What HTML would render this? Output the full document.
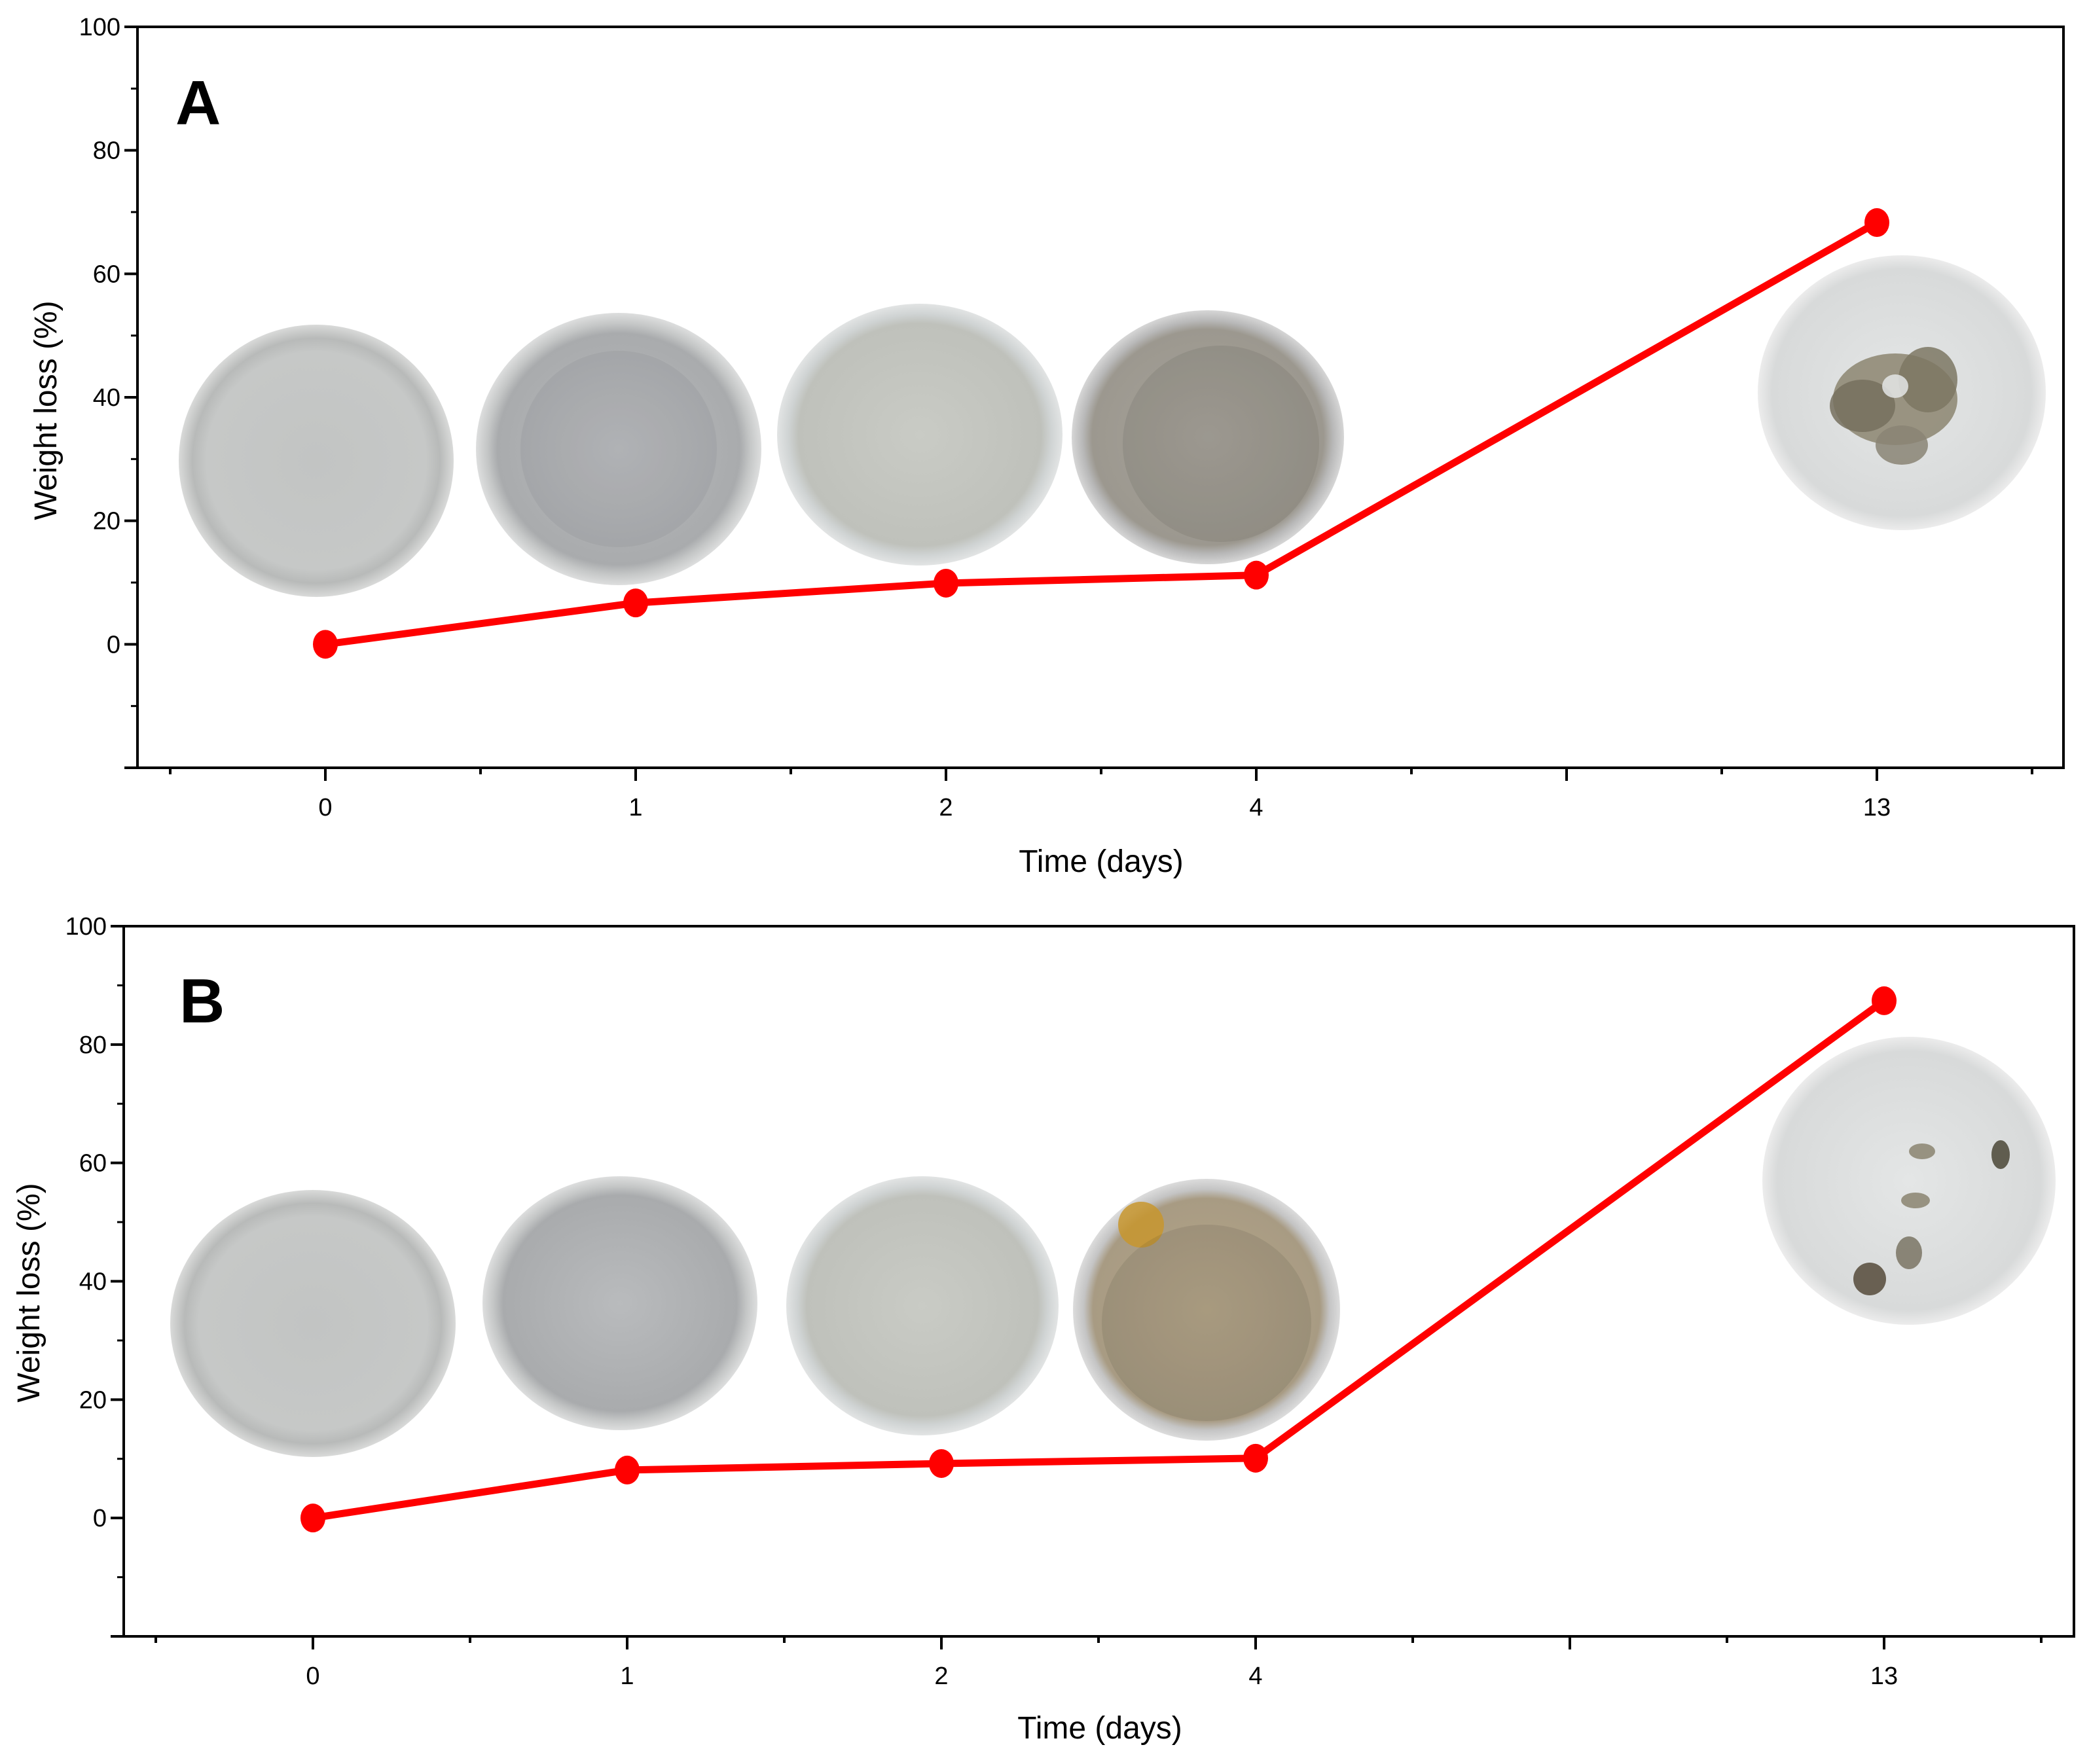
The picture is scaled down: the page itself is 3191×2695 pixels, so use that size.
<!DOCTYPE html>
<html><head><meta charset="utf-8"><style>
html,body{margin:0;padding:0;background:#fff;}
svg{display:block;}
text{font-family:"Liberation Sans",sans-serif;fill:#000;}
</style></head><body>
<svg id="fig" width="3191" height="2695" viewBox="0 0 3191 2695" xmlns="http://www.w3.org/2000/svg">
<defs>
<radialGradient id="g0" cx="50%" cy="50%" r="50%"><stop offset="0" stop-color="#c2c4c3"/><stop offset="0.8" stop-color="#c6c8c7"/><stop offset="0.9" stop-color="#b8bab9"/><stop offset="1" stop-color="#d9dad9"/></radialGradient>
<radialGradient id="g1" cx="50%" cy="50%" r="50%"><stop offset="0" stop-color="#b9bbbd"/><stop offset="0.85" stop-color="#a9abad"/><stop offset="0.92" stop-color="#c4c6c6"/><stop offset="1" stop-color="#dddede"/></radialGradient>
<radialGradient id="g2" cx="50%" cy="50%" r="50%"><stop offset="0" stop-color="#c9cbc5"/><stop offset="0.85" stop-color="#bfc1bb"/><stop offset="0.92" stop-color="#cfd3d3"/><stop offset="1" stop-color="#e2e4e4"/></radialGradient>
<radialGradient id="g3" cx="50%" cy="50%" r="50%"><stop offset="0" stop-color="#a8a49c"/><stop offset="0.85" stop-color="#9c988f"/><stop offset="0.92" stop-color="#b8b8b8"/><stop offset="1" stop-color="#d6d6d6"/></radialGradient>
<radialGradient id="g3b" cx="50%" cy="50%" r="50%"><stop offset="0" stop-color="#b7a78a"/><stop offset="0.85" stop-color="#a89b83"/><stop offset="0.92" stop-color="#c4c4c4"/><stop offset="1" stop-color="#dcdcdc"/></radialGradient>
<radialGradient id="g5" cx="50%" cy="50%" r="50%"><stop offset="0" stop-color="#e4e6e6"/><stop offset="0.9" stop-color="#d8dada"/><stop offset="1" stop-color="#ececec"/></radialGradient>
</defs>
<g id="panelA"></g>
<g id="panelB"></g>
</svg>
<script>
const categories = ["0","1","2","4","13"];
const categoryIndex = [0,1,2,3,5];
const seriesA = [0, 6.7, 9.9, 11.2, 68.3];
const seriesB = [0, 8.1, 9.2, 10.1, 87.4];
const yTicks = [0,20,40,60,80,100];
const yMinor = [-10,10,30,50,70,90];

const NS="http://www.w3.org/2000/svg";
function mk(tag, attrs, parent){const e=document.createElementNS(NS,tag);for(const k in attrs)e.setAttribute(k,attrs[k]);parent.appendChild(e);return e;}

function drawPanel(g, cfg, values, letter, photos){
  const L=cfg.left,R=cfg.right,T=cfg.top,B=cfg.bottom;
  const yMin=-20,yMax=100;
  const ys=v=>B-(v-yMin)/(yMax-yMin)*(B-T);
  const xs=i=>cfg.x0+i*cfg.step;
  // photos
  photos.forEach((p,k)=>{
    const ph=mk('g',{},g);
    
    
    mk('ellipse',{cx:p[0],cy:p[1],rx:p[2],ry:p[3],fill:'url(#'+p[4]+')'},ph);
    if(p[5]){p[5].forEach(d=>mk('ellipse',{cx:p[0]+d[0],cy:p[1]+d[1],rx:d[2],ry:d[3],fill:d[4],opacity:0.85},ph));}
  });
  // axes
  const ax=mk('rect',{x:L,y:T,width:R-L,height:B-T,fill:'none',stroke:'#000','stroke-width':4},g);
  
  
  yTicks.forEach(v=>{
    mk('line',{x1:L-20,x2:L,y1:ys(v),y2:ys(v),stroke:'#000','stroke-width':4},g);
    const t=mk('text',{x:L-26,y:ys(v)+13,'text-anchor':'end','font-size':38},g);
    t.textContent=v;
    
    
  });
  yMinor.forEach(v=>mk('line',{x1:L-10,x2:L,y1:ys(v),y2:ys(v),stroke:'#000','stroke-width':3},g));
  mk('line',{x1:L-20,x2:L,y1:B,y2:B,stroke:'#000','stroke-width':4},g);
  for(let i=-0.5;i<=5.5;i+=0.5){
    const major=Number.isInteger(i);
    mk('line',{x1:xs(i),x2:xs(i),y1:B,y2:B+(major?20:10),stroke:'#000','stroke-width':4},g);
  }
  categories.forEach((c,k)=>{
    const t=mk('text',{x:xs(categoryIndex[k]),y:cfg.tickY,'text-anchor':'middle','font-size':38},g);
    t.textContent=c;
    
    
  });
  const xt=mk('text',{x:cfg.xTitleX,y:cfg.xTitleY,'text-anchor':'middle','font-size':48},g);
  xt.textContent='Time (days)';
  
  
  const yt=mk('text',{x:0,y:0,'text-anchor':'middle','font-size':48,transform:'translate('+cfg.yTitleX+','+cfg.yTitleY+') rotate(-90)'},g);
  yt.textContent='Weight loss (%)';
  
  
  const lt=mk('text',{x:cfg.letterX,y:cfg.letterY,'font-size':96,'font-weight':'bold'},g);
  lt.textContent=letter;
  
  
  // series
  const pts=values.map((v,k)=>xs(categoryIndex[k])+','+ys(v)).join(' ');
  const pl=mk('polyline',{points:pts,fill:'none',stroke:'#ff0000','stroke-width':11,'stroke-linejoin':'round'},g);
  
  
  values.forEach((v,k)=>{
    const m=mk('ellipse',{cx:xs(categoryIndex[k]),cy:ys(v),rx:19,ry:22,fill:'#ff0000'},g);
    
    
  });
}
const dk='#3a3a36';
const blobsA5=[[-10,10,95,70,'#8c8570'],[-60,20,50,40,'#75705e'],[40,-20,45,50,'#7d7763'],[0,80,40,30,'#8a8474'],[-10,-10,20,18,'#e4e6e6']];
const blobsB5=[[-60,150,25,25,'#554a3a'],[140,-40,14,22,'#4a4636'],[10,30,22,12,'#8a8470'],[20,-45,20,12,'#8a8470'],[0,110,20,25,'#7a7464']];
drawPanel(document.getElementById('panelA'),
 {left:210,right:3152,top:41,bottom:1173,x0:497,step:474,tickY:1246,xTitleX:1682,xTitleY:1332,yTitleX:86,yTitleY:627,letterX:268,letterY:190},
 seriesA,'A',
 [[483,704,210,208,'g0'],[945,686,218,208,'g1',[[0,0,150,150,'rgba(60,60,70,0.08)']]],[1405,664,218,200,'g2'],[1845,668,208,194,'g3',[[20,10,150,150,'rgba(50,45,40,0.12)']]],[2905,600,220,210,'g5',blobsA5]]);
drawPanel(document.getElementById('panelB'),
 {left:189,right:3168,top:1415,bottom:2500,x0:478,step:480,tickY:2573,xTitleX:1680,xTitleY:2656,yTitleX:60,yTitleY:1975,letterX:274,letterY:1562},
 seriesB,'B',
 [[478,2022,218,204,'g0'],[947,1991,210,194,'g1'],[1409,1995,208,198,'g2'],[1843,2001,204,200,'g3b',[[-100,-130,35,35,'#c8962e'],[0,20,160,150,'rgba(40,35,30,0.12)']]],[2916,1804,224,220,'g5',blobsB5]]);
</script>
</body></html>
